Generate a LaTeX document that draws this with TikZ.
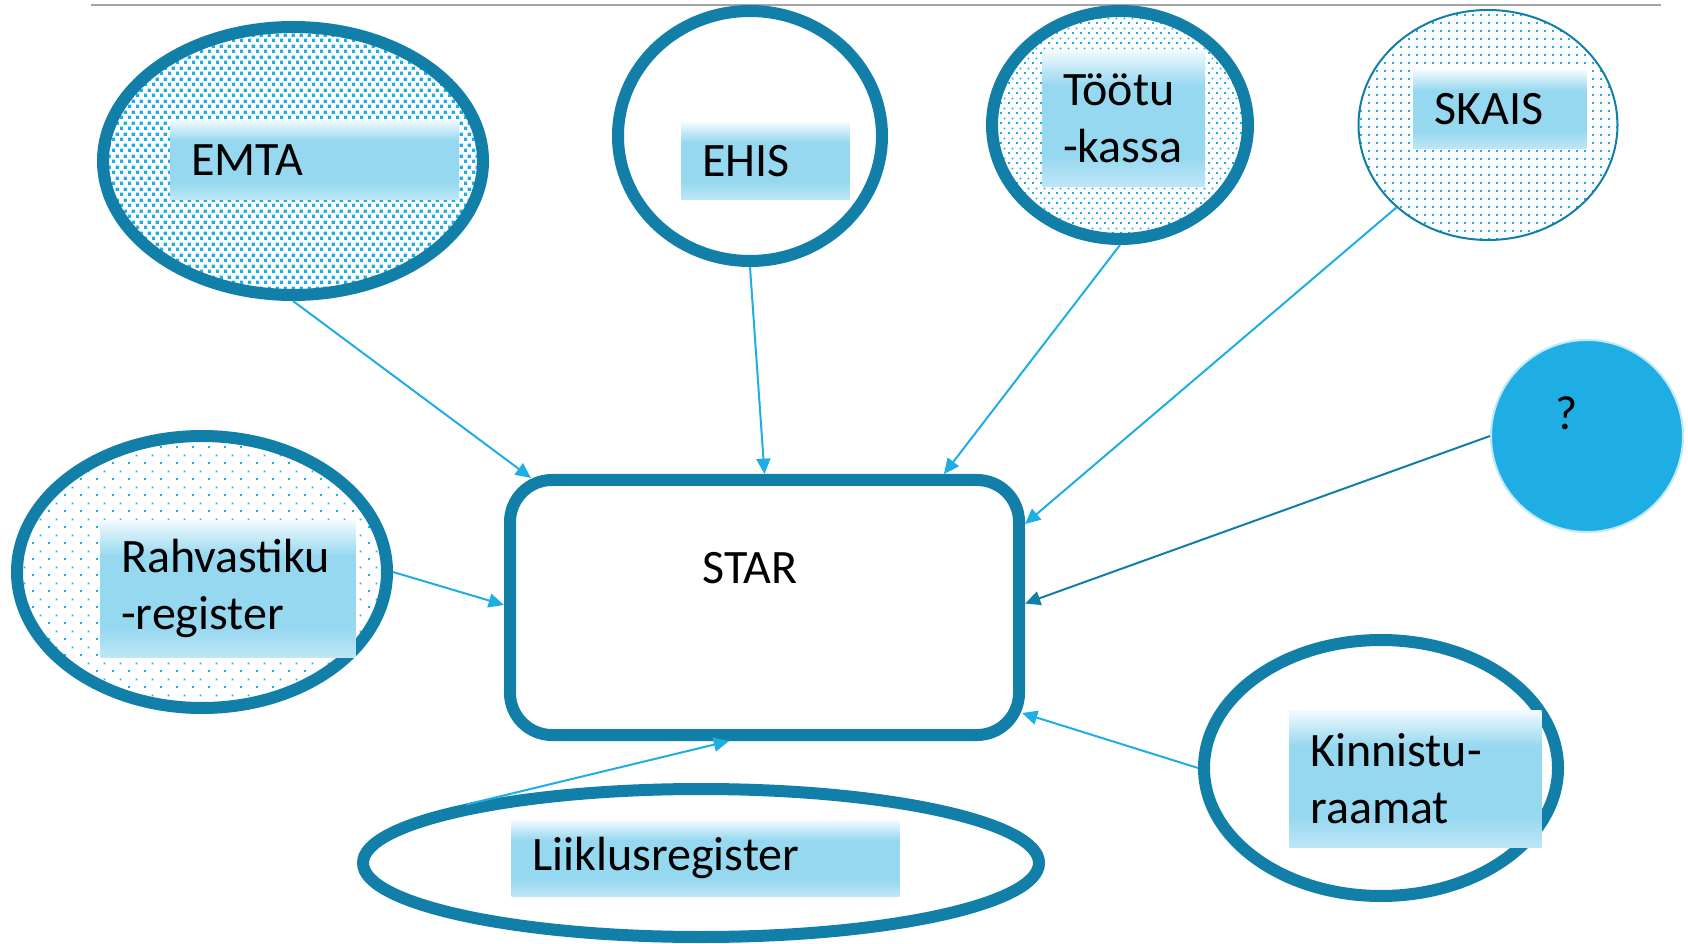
\documentclass[tikz,border=0pt]{standalone}
\usepackage{fontspec}
\setmainfont{Carlito}
\usetikzlibrary{shapes.geometric,patterns,arrows.meta,calc}
\definecolor{dteal}{RGB}{18,127,168}
\definecolor{lblue}{RGB}{31,174,228}
\definecolor{lbM}{RGB}{150,216,240}
\definecolor{lbB}{RGB}{190,231,247}
\definecolor{lbT}{RGB}{242,251,254}
\definecolor{qring}{RGB}{195,232,246}
\definecolor{topline}{RGB}{165,165,165}
\pgfdeclareverticalshading{lblshade}{100bp}{color(0bp)=(lbB); color(25bp)=(lbB); color(36bp)=(lbM); color(62bp)=(lbM); color(75bp)=(lbT); color(100bp)=(lbT)}
\pgfdeclarepatternformonly{emtachk}{\pgfpointorigin}{\pgfpoint{6pt}{8.25pt}}{\pgfpoint{6pt}{8.25pt}}{%
  \pgfpathrectangle{\pgfpoint{0pt}{0pt}}{\pgfpoint{2.7pt}{2.7pt}}%
  \pgfpathrectangle{\pgfpoint{3pt}{4.125pt}}{\pgfpoint{2.7pt}{2.7pt}}%
  \pgfusepath{fill}}
\pgfdeclarepatternformonly{densedots}{\pgfpointorigin}{\pgfpoint{6pt}{7.5pt}}{\pgfpoint{6pt}{7.5pt}}{%
  \pgfpathrectangle{\pgfpoint{0pt}{0pt}}{\pgfpoint{1.5pt}{1.5pt}}%
  \pgfpathrectangle{\pgfpoint{3pt}{3.75pt}}{\pgfpoint{1.5pt}{1.5pt}}%
  \pgfusepath{fill}}
\pgfdeclarepatternformonly{griddots}{\pgfpointorigin}{\pgfpoint{6pt}{6pt}}{\pgfpoint{6pt}{6pt}}{%
  \pgfpathrectangle{\pgfpoint{0pt}{0pt}}{\pgfpoint{1.5pt}{1.5pt}}%
  \pgfusepath{fill}}
\pgfdeclarepatternformonly{sparsedots}{\pgfpointorigin}{\pgfpoint{12pt}{12pt}}{\pgfpoint{12pt}{12pt}}{%
  \pgfpathrectangle{\pgfpoint{0pt}{0pt}}{\pgfpoint{1.5pt}{1.5pt}}%
  \pgfpathrectangle{\pgfpoint{6pt}{6pt}}{\pgfpoint{1.5pt}{1.5pt}}%
  \pgfusepath{fill}}
\begin{document}
\begin{tikzpicture}[x=0.75pt,y=-0.75pt,
  txt/.style={font=\fontsize{36pt}{42.75pt}\selectfont, text=black},
  src/.style={ellipse, draw=dteal, line width=9pt, inner sep=0pt},
  lbl/.style={txt, shading=lblshade, anchor=north west, inner xsep=15.75pt, inner ysep=0pt, align=left},
  arr/.style={draw=lblue, line width=1.5pt, -{Triangle[length=11.5pt,width=10.5pt]}},
  arrdk/.style={arr, draw=dteal}
]
\useasboundingbox (0,0) rectangle (1688,944);
\draw[topline, line width=1.2pt] (91,5) -- (1661,5);

% source ellipses
\node[src, pattern=emtachk, pattern color=lblue, minimum width=285pt, minimum height=201pt] (emta) at (293,161) {};
\node[src, fill=white, minimum width=198pt, minimum height=187.5pt] (ehis) at (750,136) {};
\node[src, pattern=densedots, pattern color=lblue, minimum width=192pt, minimum height=171pt] (tootu) at (1120,125) {};
\node[src, line width=1.5pt, pattern=griddots, pattern color=lblue, minimum width=194.25pt, minimum height=172.5pt] (skais) at (1488,125) {};
\node[circle, fill=lblue, draw=qring, line width=1.5pt, minimum size=144pt, inner sep=0pt] (q) at (1587,436) {};
\node[src, pattern=sparsedots, pattern color=lblue, minimum width=277.5pt, minimum height=204pt] (rahv) at (202,572) {};
\node[src, fill=white, minimum width=265.5pt, minimum height=192pt] (kinn) at (1381,768) {};
\node[src, fill=white, minimum width=507pt, minimum height=111pt] (liik) at (701,863) {};

% central box
\node[draw=dteal, line width=9pt, rounded corners=31.5pt, fill=white, minimum width=381.75pt, minimum height=191.25pt, inner sep=0pt] (star) at (764.5,607.5) {};
\node[txt, anchor=base] (startxt) at (750,583) {STAR};
\node[txt, anchor=base] (qtxt) at (1567,430) {?};

% labels
\node[lbl, text width=184.5pt, minimum height=59.25pt] (emtaL) at (170,120) {EMTA};
\node[lbl, text width=94.5pt, minimum height=57.75pt] (ehisL) at (681,122) {EHIS};
\node[lbl, text width=90pt, minimum height=102pt] (tootuL) at (1042,50) {\mbox{Töötu}\\\mbox{-kassa}};
\node[lbl, text width=98.25pt, minimum height=58.5pt] (skaisL) at (1413,70) {SKAIS};
\node[lbl, text width=159.75pt, minimum height=102.75pt] (rahvL) at (100,520) {\mbox{Rahvastiku}\\\mbox{-register}};
\node[lbl, text width=157.5pt, minimum height=102.75pt] (kinnL) at (1289,710) {\mbox{Kinnistu-}\\\mbox{raamat}};
\node[lbl, text width=259.5pt, minimum height=57pt] (liikL) at (511,820) {Liiklusregister};

% connectors
\draw[arr] (emta.south) -- ([xshift=20.25pt,yshift=-3pt]star.north west);
\draw[arr] (ehis.south) -- (star.north);
\draw[arr] (tootu.south) -- ([xshift=134.6pt]star.north);
\draw[arr] (skais.222) -- ([yshift=-37.5pt]star.north east);
\draw[arrdk] (q.west) -- ([yshift=3pt]star.east);
\draw[arr] (rahv.east) -- ([yshift=1.9pt]star.west);
\draw[arr] (kinn.west) -- ([xshift=-2.25pt,yshift=21pt]star.south east);
\draw[arr] (liik.166) -- ([xshift=-26.6pt]star.south);
\end{tikzpicture}
\end{document}
